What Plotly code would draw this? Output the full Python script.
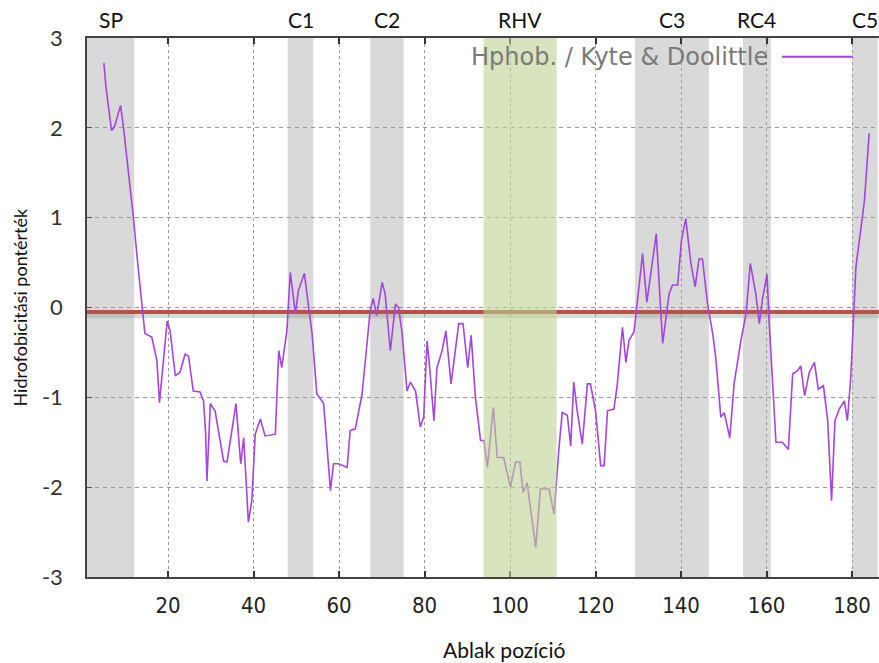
import plotly.graph_objects as go

# ---------------- data ----------------
positions = [5.0, 5.5, 6.3, 6.8, 7.3, 7.6, 8.3, 8.9, 9.6, 10.8, 11.9, 13.0, 14.2, 14.6, 16.2,
             17.4, 18.0, 18.5, 19.2, 19.8, 20.5, 21.7, 22.8, 24.0, 24.8, 25.9, 27.5, 28.3,
             28.8, 29.1, 29.9, 31.0, 33.0, 33.8, 35.9, 37.0, 37.7, 38.8, 39.6, 40.4, 41.6,
             42.7, 45.1, 45.9, 46.6, 47.8, 48.6, 49.8, 50.5, 51.9, 52.9, 53.7, 54.8, 56.4,
             58.0, 58.7, 59.9, 61.9, 62.6, 63.8, 65.4, 66.7, 67.3, 68.0, 68.8, 70.1, 70.8,
             72.0, 73.2, 73.9, 74.7, 75.9, 76.7, 77.9, 79.0, 79.8, 80.6, 81.2, 82.2, 82.9,
             84.1, 85.0, 86.2, 88.0, 89.0, 90.1, 90.9, 91.9, 93.1, 93.9, 94.7, 96.1, 97.0,
             98.5, 100.1, 101.3, 102.3, 103.1, 104.0, 106.0, 107.1, 109.1, 110.3, 111.4,
             112.2, 113.4, 114.2, 114.9, 115.7, 116.9, 118.1, 118.8, 120.0, 121.2, 122.0,
             122.8, 124.3, 125.1, 126.3, 127.1, 127.8, 129.0, 129.8, 131.0, 132.0, 134.2,
             135.7, 137.2, 138.0, 139.2, 140.1, 141.1, 142.3, 143.3, 144.2, 145.0, 146.2,
             147.4, 148.1, 149.3, 150.1, 151.4, 152.4, 154.0, 155.2, 156.2, 157.5, 158.3,
             159.1, 160.1, 160.6, 161.4, 162.2, 163.7, 165.1, 166.1, 167.3, 168.0, 168.9,
             170.0, 171.2, 172.1, 173.3, 174.3, 175.2, 176.0, 177.0, 178.2, 178.9, 179.7,
             180.4, 180.9, 182.9, 184.0]
hydrophobicity = [2.72, 2.45, 2.15, 1.97, 2.00, 2.03, 2.15, 2.25, 2.00, 1.50, 1.00, 0.45, -0.05,
                  -0.29, -0.33, -0.59, -1.06, -0.81, -0.45, -0.15, -0.26, -0.76, -0.72, -0.52,
                  -0.54, -0.93, -0.94, -1.04, -1.40, -1.93, -1.07, -1.15, -1.71, -1.72, -1.07,
                  -1.74, -1.45, -2.39, -2.15, -1.41, -1.24, -1.43, -1.41, -0.48, -0.67, -0.26,
                  0.39, -0.07, 0.19, 0.38, 0.00, -0.29, -0.96, -1.07, -2.04, -1.74, -1.74,
                  -1.78, -1.37, -1.35, -0.96, -0.29, -0.03, 0.10, -0.09, 0.28, 0.15, -0.48,
                  0.04, 0.00, -0.26, -0.93, -0.83, -0.93, -1.33, -1.22, -0.37, -0.67, -1.26,
                  -0.67, -0.48, -0.26, -0.85, -0.18, -0.18, -0.67, -0.31, -1.00, -1.48, -1.48,
                  -1.78, -1.11, -1.67, -1.67, -2.00, -1.72, -1.72, -2.06, -1.95, -2.67, -2.02,
                  -2.02, -2.30, -1.59, -1.17, -1.20, -1.54, -0.83, -1.15, -1.52, -0.85, -0.85,
                  -1.15, -1.76, -1.76, -1.15, -1.13, -0.85, -0.22, -0.61, -0.37, -0.27, 0.08,
                  0.60, 0.06, 0.82, -0.40, 0.15, 0.25, 0.25, 0.75, 0.99, 0.49, 0.23, 0.54,
                  0.54, 0.04, -0.29, -0.55, -1.22, -1.17, -1.45, -0.85, -0.37, -0.07, 0.49,
                  0.15, -0.18, 0.11, 0.37, -0.15, -0.85, -1.50, -1.50, -1.58, -0.74, -0.70,
                  -0.65, -0.98, -0.72, -0.61, -0.91, -0.87, -1.26, -2.15, -1.26, -1.13, -1.04,
                  -1.26, -0.78, -0.07, 0.45, 1.19, 1.94]

baseline = -0.05

region_names = ["SP", "C1", "C2", "RHV", "C3", "RC4", "C5"]
region_starts = [1.05, 48.0, 67.3, 93.8, 129.2, 154.5, 180.0]
region_ends = [12.1, 54.0, 75.1, 110.9, 146.5, 161.0, 186.0]

x_ticks = [20, 40, 60, 80, 100, 120, 140, 160, 180]
y_ticks = [3, 2, 1, 0, -1, -2, -3]
y_tick_text = ["3", "2", "1", "0", "-1", "-2", "-3"]

legend_label = "Hphob. / Kyte & Doolittle"
x_title = "Ablak pozíció"
y_title = "Hidrofobicitási pontérték"

X_RANGE = [1.05, 186.3]
PURPLE = "#a545e0"

# ---------------- figure ----------------
fig = go.Figure()

# baseline (reference line) with a soft shadow
fig.add_trace(go.Scatter(x=X_RANGE, y=[baseline - 0.03, baseline - 0.03], mode="lines",
                         line=dict(color="rgba(150,150,150,0.35)", width=7),
                         hoverinfo="skip", showlegend=False))
fig.add_trace(go.Scatter(x=X_RANGE, y=[baseline, baseline], mode="lines",
                         line=dict(color="#b9514a", width=4),
                         hoverinfo="skip", showlegend=False))

fig.add_trace(go.Scatter(x=positions, y=hydrophobicity, mode="lines",
                         line=dict(color=PURPLE, width=1.6),
                         name=legend_label, showlegend=False))

shapes = []
annotations = []
for name, s, e in zip(region_names, region_starts, region_ends):
    if name == "RHV":
        shapes.append(dict(type="rect", xref="x", yref="paper", x0=s, x1=e, y0=0, y1=1,
                           fillcolor="rgb(190,210,145)", opacity=0.6, line=dict(width=0),
                           layer="above"))
    else:
        shapes.append(dict(type="rect", xref="x", yref="paper", x0=s, x1=e, y0=0, y1=1,
                           fillcolor="#d9d9d9", line=dict(width=0), layer="below"))
    annotations.append(dict(x=(s + e) / 2, xref="x", y=1, yref="paper", yanchor="bottom",
                            yshift=4, text=name, showarrow=False,
                            font=dict(family="Lato, Open Sans, sans-serif", size=21,
                                      color="#111111")))

# legend drawn to the right of its text (as in the original)
annotations.append(dict(x=0.862, xref="paper", y=0.965, yref="paper", xanchor="right",
                        yanchor="middle", text=legend_label, showarrow=False,
                        font=dict(family="DejaVu Sans, sans-serif", size=24, color="#7a7a7a")))
shapes.append(dict(type="line", xref="paper", yref="paper", x0=0.8775, x1=0.967,
                   y0=0.965, y1=0.965, line=dict(color=PURPLE, width=2)))

# axis titles
annotations.append(dict(x=0.527, xref="paper", y=-0.135, yref="paper", yanchor="middle",
                        text=x_title, showarrow=False,
                        font=dict(family="Lato, sans-serif", size=21, color="#111111")))
annotations.append(dict(x=-0.0846, xref="paper", y=0.5, yref="paper", textangle=-90,
                        xanchor="center", yanchor="middle", text=y_title, showarrow=False,
                        font=dict(family="Lato, sans-serif", size=18, color="#111111")))

fig.update_layout(
    width=879, height=663,
    margin=dict(l=87, r=0, t=38, b=86),
    paper_bgcolor="white", plot_bgcolor="white",
    shapes=shapes, annotations=annotations,
    showlegend=False,
)

fig.update_xaxes(range=X_RANGE, tickvals=x_ticks, ticks="inside", ticklen=6, tickwidth=1.5,
                 tickcolor="#333333", showline=True, linecolor="#444444", linewidth=1.8,
                 mirror="ticks", showgrid=True, gridcolor="#9a9a9a", gridwidth=1,
                 griddash="dot", zeroline=False,
                 tickfont=dict(family="Liberation Sans Narrow, DejaVu Sans Condensed, Arial Narrow, sans-serif",
                               size=22, color="#222222"),
                 ticklabelstandoff=8)
fig.update_yaxes(range=[-3, 3], tickvals=y_ticks, ticktext=y_tick_text, ticks="inside",
                 ticklen=5, tickcolor="#555555", showline=True, linecolor="#444444",
                 linewidth=1.5, showgrid=True, gridcolor="#9a9a9a", gridwidth=1,
                 griddash="4px,4px", zeroline=False,
                 tickfont=dict(family="Lato, Open Sans, sans-serif", size=22, color="#333333"),
                 ticklabelstandoff=18)

fig.write_html("out.html")
